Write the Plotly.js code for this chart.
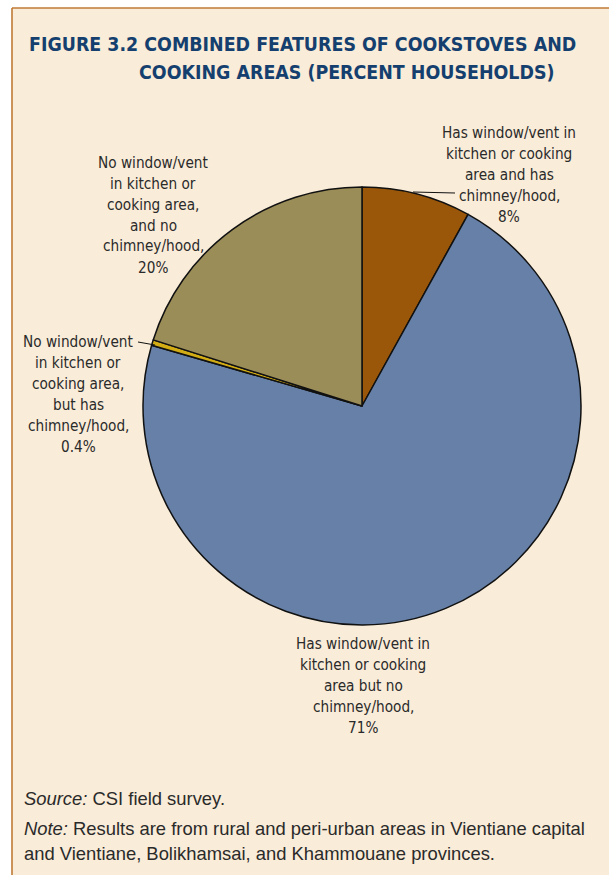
<!DOCTYPE html>
<html><head><meta charset="utf-8">
<script src="https://cdn.plot.ly/plotly-3.0.1.min.js"></script>
<style>html,body{margin:0;padding:0;background:#fff;}#chart{width:609px;height:875px;}</style>
</head><body><div id="chart"></div>
<script>
// ---- data ----
const categories = [
  "Has window/vent in kitchen or cooking area and has chimney/hood",
  "Has window/vent in kitchen or cooking area but no chimney/hood",
  "No window/vent in kitchen or cooking area, but has chimney/hood",
  "No window/vent in kitchen or cooking area, and no chimney/hood"
];
const values = [8, 71, 0.4, 20];
const valueLabels = ["8%", "71%", "0.4%", "20%"];
const labelLines = [
  ["Has window/vent in", "kitchen or cooking", "area and has", "chimney/hood,"],
  ["Has window/vent in", "kitchen or cooking", "area but no", "chimney/hood,"],
  ["No window/vent", "in kitchen or", "cooking area,", "but has", "chimney/hood,"],
  ["No window/vent", "in kitchen or", "cooking area,", "and no", "chimney/hood,"]
];
const colors = ["#9A5709", "#6680A8", "#D2AC14", "#9B8D58"];
const titleLines = ["FIGURE 3.2 COMBINED FEATURES OF COOKSTOVES AND", "COOKING AREAS (PERCENT HOUSEHOLDS)"];
const sourceText = "<i>Source:</i> CSI field survey.";
const noteLines = ["<i>Note:</i> Results are from rural and peri-urban areas in Vientiane capital", "and Vientiane, Bolikhamsai, and Khammouane provinces."];

// ---- layout helpers ----
const W = 609, H = 875;
const px = x => x / W;
const py = y => 1 - y / H;
const cx = 362, cy = 406, R = 219;

// label anchor positions (pixel centers) and line spacing
const labelPos = [[509, 175], [363, 686], [78, 394.5], [153, 215]];
const lineGap = 21;

const labelFont = {family: "'DejaVu Sans Condensed', 'Liberation Sans Narrow', sans-serif", size: 15.2, color: "#2a2a2a"};
const annotations = [];
labelLines.forEach((lines, i) => {
  const all = lines.concat([valueLabels[i]]);
  const n = all.length;
  all.forEach((t, k) => {
    annotations.push({
      xref: "paper", yref: "paper", x: px(labelPos[i][0]),
      y: py(labelPos[i][1] + (k - (n - 1) / 2) * lineGap),
      xanchor: "center", yanchor: "middle", align: "center", showarrow: false,
      text: t, font: labelFont
    });
  });
});

const titleFont = {family: "'DejaVu Sans Condensed', 'Liberation Sans Narrow', sans-serif", size: 19.4, color: "#143F6E", weight: 700};
annotations.push({xref: "paper", yref: "paper", x: px(27), y: py(45), xanchor: "left", yanchor: "middle", showarrow: false, text: "<b>" + titleLines[0] + "</b>", font: titleFont});
annotations.push({xref: "paper", yref: "paper", x: px(137), y: py(73), xanchor: "left", yanchor: "middle", showarrow: false, text: "<b>" + titleLines[1] + "</b>", font: titleFont});

const footFont = {family: "'Liberation Sans', Arial, sans-serif", size: 18.4, color: "#2a2a2a"};
annotations.push({xref: "paper", yref: "paper", x: px(22), y: py(798), xanchor: "left", yanchor: "middle", showarrow: false, text: sourceText, font: footFont});
annotations.push({xref: "paper", yref: "paper", x: px(22), y: py(828), xanchor: "left", yanchor: "middle", showarrow: false, text: noteLines[0], font: footFont});
annotations.push({xref: "paper", yref: "paper", x: px(22), y: py(853), xanchor: "left", yanchor: "middle", showarrow: false, text: noteLines[1], font: footFont});

const shapes = [
  {type: "rect", xref: "paper", yref: "paper", x0: px(12), x1: px(W + 20), y0: py(H + 20), y1: py(8), fillcolor: "#F9ECD8", line: {width: 0}, layer: "below"},
  {type: "line", xref: "paper", yref: "paper", x0: px(12), x1: px(W + 5), y0: py(8), y1: py(8), line: {color: "#C07A35", width: 1.6}, layer: "below"},
  {type: "line", xref: "paper", yref: "paper", x0: px(12), x1: px(12), y0: py(8), y1: py(H + 5), line: {color: "#C07A35", width: 1.6}, layer: "below"},
  // leader lines
  {type: "line", xref: "paper", yref: "paper", x0: px(413), x1: px(455), y0: py(192), y1: py(193), line: {color: "#111", width: 1}},
  {type: "line", xref: "paper", yref: "paper", x0: px(138), x1: px(155), y0: py(342), y1: py(345), line: {color: "#111", width: 1}}
];

const trace = {
  type: "pie", labels: categories, values: values, sort: false, direction: "clockwise", rotation: 0,
  marker: {colors: colors, line: {color: "#111", width: 1.5}},
  textinfo: "none", hoverinfo: "label+percent", showlegend: false,
  domain: {x: [px(cx - R), px(cx + R)], y: [py(cy + R), py(cy - R)]}
};

Plotly.newPlot("chart", [trace], {
  width: W, height: H, margin: {l: 0, r: 0, t: 0, b: 0},
  paper_bgcolor: "#ffffff", plot_bgcolor: "rgba(0,0,0,0)",
  showlegend: false, annotations: annotations, shapes: shapes
}, {displayModeBar: false, staticPlot: true});
</script>
</body></html>
